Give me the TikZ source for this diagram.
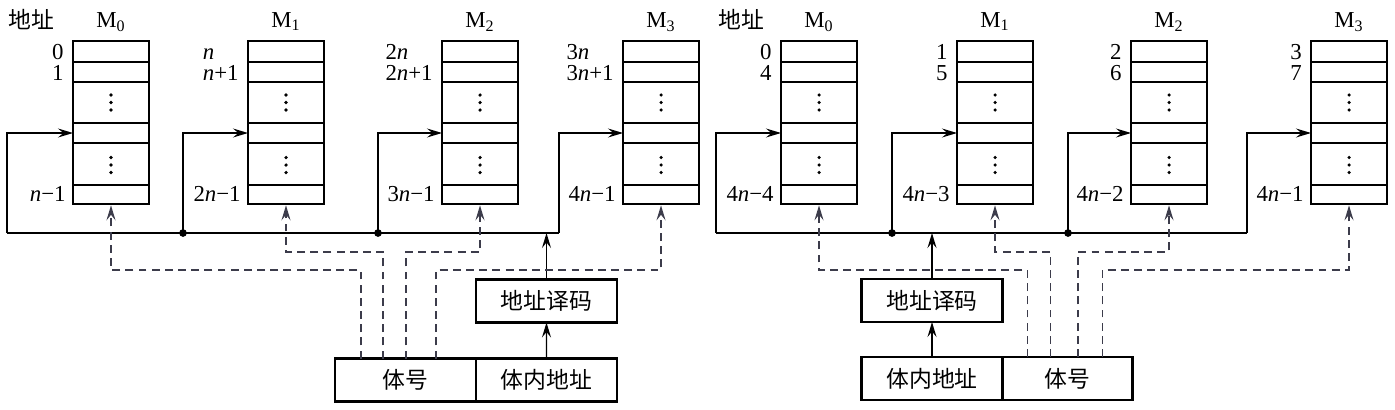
\documentclass[tikz,border=0pt]{standalone}
\usepackage{fontspec}
\setmainfont{Liberation Serif}
\newfontfamily\cjk{Noto Sans CJK SC}
\usepackage{tikz}
\usetikzlibrary{positioning,calc,arrows.meta}
\definecolor{dashgray}{RGB}{60,60,75}
\newcommand{\nn}{\textit{n}}
\tikzset{
  >={Stealth[length=3mm,width=1.8mm,inset=1.1mm]},
  bank/.style={draw, line width=1.5pt, minimum width=1.52cm, minimum height=3.26cm, inner sep=0pt},
  rowline/.style={line width=1.3pt},
  fld/.style={draw, line width=1.5pt, minimum width=2.82cm, minimum height=0.86cm, inner sep=0pt, outer sep=0pt, font=\cjk\fontsize{13}{15}\selectfont},
  addr/.style={inner sep=0pt},
  wire/.style={line width=0.8pt},
  sel/.style={line width=1pt, dashgray, dash pattern=on 4.5pt off 3pt}
}
\begin{document}
\begin{tikzpicture}[x=0.02cm, y=-0.02cm, font=\fontsize{13}{15}\selectfont]
    \useasboundingbox (0,0) rectangle (1395,409);

    % Banks
    \foreach \i/\xl in {0/73,1/248,2/442,3/623,4/781,5/957,6/1131,7/1311} {
        \node[bank] (B\i) at (\xl+38,122.5) {};
        \foreach \r in {62,82,123,143,185} \draw[rowline] (\xl,\r) -- (\xl+76,\r);
        \foreach \d in {-7.5,0,7.5} {
            \fill (\xl+38,102.5+\d) circle (1pt);
            \fill (\xl+38,165+\d) circle (1pt);
        }
        \coordinate (in\i) at (\xl,133);
    }
    \foreach \i/\k in {0/0,1/1,2/2,3/3,4/0,5/1,6/2,7/3}
        \node[anchor=base] (m\i) at ($(B\i.north)+(0,-12)$) {M\textsubscript{\k}};
    \node (hl) at (31,20) {\cjk 地址};
    \node (hr) at (741,20) {\cjk 地址};

    % Address labels
    \foreach \i/\xl/\a/\b/\c in {0/73/0/1/\nn−1, 1/248/\nn/\nn+1/2\nn−1, 2/442/2\nn/2\nn+1/3\nn−1, 3/623/3\nn/3\nn+1/4\nn−1,
                                 4/781/0/4/4\nn−4, 5/957/1/5/4\nn−3, 6/1131/2/6/4\nn−2, 7/1311/3/7/4\nn−1} {
        \node[addr, anchor=base east] (b\i) at (\xl-9,80) {\b};
        \path (b\i.base west) ++(0,-21) node[addr, anchor=base west] (a\i) {\a};
        \node[addr, anchor=base east] (c\i) at (\xl-7,201) {\c};
    }

    % Left half: bus and fields
    \coordinate (la) at (7,233);
    \coordinate (lb) at (183,233);
    \coordinate (lc) at (378,233);
    \coordinate (ld) at (559,233);
    \draw[wire] (la) -- (ld);
    \draw[wire,->] (la) |- (in0);
    \draw[wire,->] (lb) |- (in1);
    \draw[wire,->] (lc) |- (in2);
    \draw[wire,->] (ld) |- (in3);
    \fill (lb) circle (2.2pt);
    \fill (lc) circle (2.2pt);

    \node[fld] (ldec) at (546.5,301) {地址译码};
    \node[fld] (lno) at (405.5,380) {体号};
    \node[fld, right=0pt of lno] (lin) {体内地址};
    \draw[wire,->] (lin) -- (ldec);
    \draw[wire,->] (ldec) -- (ldec |- ld);

    \draw[sel,->] ($(lno.north)+(-44.5,0)$) -- ++(0,-88.5) -| (B0.south);
    \draw[sel,->] ($(lno.north)+(-22.5,0)$) -- ++(0,-106.5) -| (B1.south);
    \draw[sel,->] ($(lno.north)+(0.5,0)$) -- ++(0,-106.5) -| (B2.south);
    \draw[sel,->] ($(lno.north)+(30.5,0)$) -- ++(0,-88.5) -| (B3.south);

    % Right half: bus and fields
    \coordinate (ra) at (716,233);
    \coordinate (rb) at (892,233);
    \coordinate (rc) at (1068,233);
    \coordinate (rd) at (1247,233);
    \draw[wire] (ra) -- (rd);
    \draw[wire,->] (ra) |- (in4);
    \draw[wire,->] (rb) |- (in5);
    \draw[wire,->] (rc) |- (in6);
    \draw[wire,->] (rd) |- (in7);
    \fill (rb) circle (2.2pt);
    \fill (rc) circle (2.2pt);

    \node[fld] (rdec) at (932,300.5) {地址译码};
    \node[fld] (rin) at (932,378.5) {体内地址};
    \node[fld, minimum width=2.6cm, right=0pt of rin] (rno) {体号};
    \draw[wire,->] (rin) -- (rdec);
    \draw[wire,->] (rdec) -- (rdec |- ra);

    \draw[sel,->] ($(rno.north)+(-40,0)$) -- ++(0,-87) -| (B4.south);
    \draw[sel,->] ($(rno.north)+(-17,0)$) -- ++(0,-105) -| (B5.south);
    \draw[sel,->] ($(rno.north)+(10.5,0)$) -- ++(0,-105) -| (B6.south);
    \draw[sel,->] ($(rno.north)+(35,0)$) -- ++(0,-87) -| (B7.south);
\end{tikzpicture}
\end{document}
